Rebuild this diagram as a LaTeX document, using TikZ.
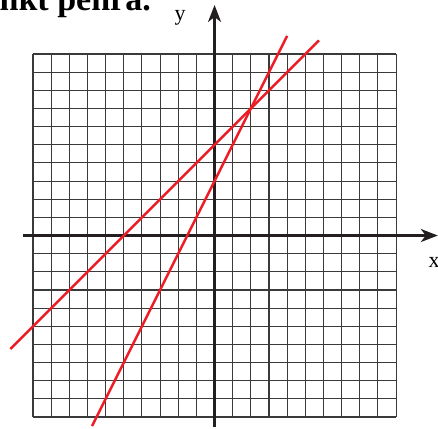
\documentclass[tikz,border=0pt]{standalone}
\usepackage{fontspec}
\setmainfont{Liberation Serif}
\usepackage{tikz}
\usetikzlibrary{arrows.meta}
\definecolor{rojo}{HTML}{ED1C24}
\definecolor{negro}{HTML}{231F20}
\definecolor{rejgris}{HTML}{3A3A3A}

\begin{document}
\begin{tikzpicture}[x=18.15pt, y=18.15pt,
  rejilla/.style={draw=rejgris, line width=1.1pt},
  eje/.style={-{Stealth[length=17pt, width=13pt, inset=5pt]}, negro, line width=2.6pt},
  recta/.style={rojo, line width=2.4pt},
  etiq/.style={font=\fontsize{22}{24}\selectfont, inner sep=0pt}]
\useasboundingbox (-11.82,-10.61) rectangle (12.31,12.975);
\node[anchor=base west, inner sep=0pt, font=\bfseries\fontsize{34}{36}\selectfont] (titulo) at (-11.85,12.42) {nkt pehra.};
\draw[rejilla, step=1] (-10,-10) grid (10,10);
\draw[eje] (-10.57,0) -- (12.3,0);
\draw[eje] (0,-10.55) -- (0,12.7);
\node[etiq] (lx) at (12.09,-1.49) {x};
\node[etiq] (ly) at (-1.9,12.0) {y};
% y = 2x + 3 e y = x + 5
\draw[recta] (-6.75,-10.5) -- (4,11);
\draw[recta] (-11.25,-6.25) -- (5.75,10.75);
\end{tikzpicture}
\end{document}
